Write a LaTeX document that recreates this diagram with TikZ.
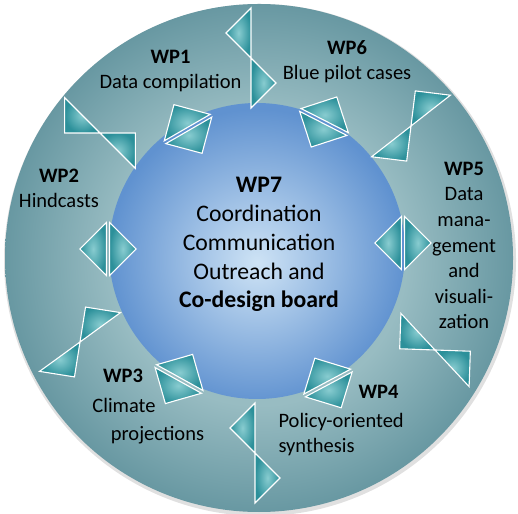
\documentclass[tikz,border=0pt]{standalone}
\usepackage{fontspec}
\setmainfont{Carlito}

\definecolor{ringin}{RGB}{152,188,194}
\definecolor{ringout}{RGB}{104,152,162}
\definecolor{corein}{RGB}{206,227,245}
\definecolor{coreout}{RGB}{96,146,208}
\definecolor{tealin}{RGB}{136,204,208}
\definecolor{tealout}{RGB}{44,144,154}

\pgfdeclareradialshading{ringshade}{\pgfpoint{0bp}{0bp}}{color(0bp)=(ringin); color(14.5bp)=(ringin); color(25bp)=(ringout); color(50bp)=(ringout)}
\pgfdeclareradialshading{coreshade}{\pgfpoint{0bp}{-2bp}}{color(0bp)=(corein); color(25bp)=(coreout); color(50bp)=(coreout)}
\pgfdeclareradialshading{tealshade}{\pgfpoint{0bp}{0bp}}{color(0bp)=(tealin); color(25bp)=(tealout); color(50bp)=(tealout)}

\begin{document}
\begin{tikzpicture}[
            x = 1pt, y = 1pt, % one unit = one pixel of the original
            tie/.style = {draw = white, line width = 1.1pt, line join = miter, shading = tealshade},
            wptitle/.style = {font = \fontsize{20.5}{25.6}\selectfont\bfseries, anchor = base},
            wptext/.style = {font = \fontsize{20.5}{25.6}\selectfont, align = center, anchor = base},
            coretext/.style = {font = \fontsize{23.7}{28.8}\selectfont, align = center, anchor = base}
        ]

        \useasboundingbox (0,0) rectangle (518,513);

        \coordinate (o) at (259,255); % centre of the ring
        \coordinate (c) at (257,262); % centre of the core

        % ring and core
        \fill[black, opacity = 0.12] ([shift={(1,-2)}]o) circle (256);
        \path[shading = ringshade] (o) circle (254);
        \path[shading = coreshade] (c) circle (148);

        % bow ties between the work packages
        \foreach \x/\y/\a in {251/455/90, 411/387/38, 435/163/-47, 255/60/-90, 80/171/216, 100/380/135} {
            \begin{scope}[shift = {(\x,\y)}, rotate = \a]
                \path[tie] (0,0) -- (50,0) -- (25,25) -- cycle;
                \path[tie] (0,0) -- (-50,0) -- (-25,-25) -- cycle;
            \end{scope}
        }

        % split squares on the edge of the core
        \foreach \x/\y/\a in {188/384/120, 324/391/63, 403/270/0, 328/130/-62, 179/134/-119, 108/264/180} {
            \begin{scope}[shift = {(\x,\y)}, rotate = \a]
                \path[tie] (1.6,-26.5) -- (1.6,26.5) -- (28.1,0) -- cycle;
                \path[tie] (-1.6,-26.5) -- (-1.6,26.5) -- (-28.1,0) -- cycle;
            \end{scope}
        }

        % multi-line texts sit on the baseline of their last line
        \node[coretext] (wp7) at (259,205) {\textbf{WP7}\\Coordination\\Communication\\Outreach and\\\textbf{Co-design board}};

        \node[wptext] (wp1) at (170.5,424) {\textbf{WP1}\\Data compilation};
        \node[wptext] (wp6) at (347,433) {\textbf{WP6}\\Blue pilot cases};
        \node[wptext] (wp2) at (59,305) {\textbf{WP2}\\Hindcasts};
        \node[wptext] (wp5) at (464,184) {\textbf{WP5}\\Data\\mana-\\gement\\and\\visuali-\\zation};

        \node[wptitle] (wp3) at (123,130) {WP3};
        \node[wptext] (wp3a) at (124,100) {Climate};
        \node[wptext] (wp3b) at (157.5,72) {projections};

        \node[wptitle] (wp4) at (378.5,114) {WP4};
        \node[wptext, align = left, anchor = base west] (wp4txt) at (275,60) {Policy-oriented\\synthesis};

  \end{tikzpicture}
\end{document}
